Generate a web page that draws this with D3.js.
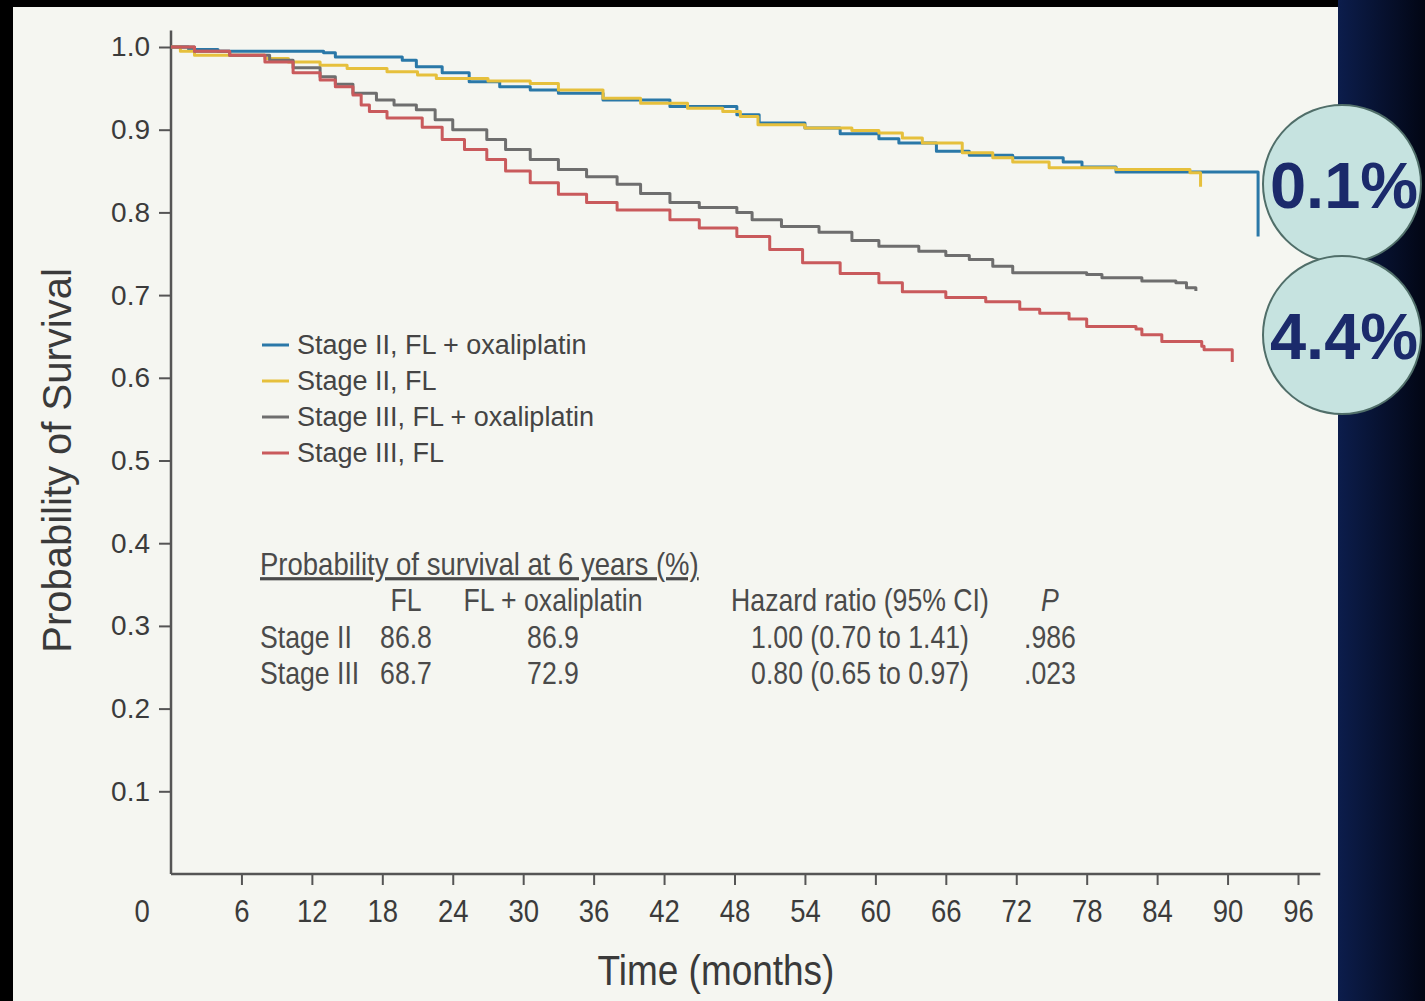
<!DOCTYPE html>
<html>
<head>
<meta charset="utf-8">
<style>
  html, body { margin: 0; padding: 0; background: #000; }
  svg { display: block; }
  .tick text { fill: #3b3b3b; }
</style>
</head>
<body>
<div id="chart"></div>
<script src="https://cdn.jsdelivr.net/npm/d3@7/dist/d3.min.js"></script>
<script>
var W = 1425, H = 1001;

// ---- data ----
var seriesNames = ["Stage II, FL + oxaliplatin", "Stage II, FL", "Stage III, FL + oxaliplatin", "Stage III, FL"];
var seriesColors = ["#2a78a8", "#e6c03c", "#6e6e6e", "#c95a5c"];

// [months, probability] (Kaplan-Meier steps)
var stage2Ox = [[0,1.0],[1.5,0.997],[4,0.995],[13,0.993],[14,0.988],[19.7,0.984],[20.9,0.976],[23.1,0.969],[25.4,0.958],[28,0.952],[30.6,0.948],[33,0.944],[36.8,0.936],[42.5,0.928],[48.2,0.918],[50.1,0.908],[54,0.902],[57,0.895],[60.3,0.889],[62,0.884],[65.2,0.874],[68,0.869],[71.7,0.866],[76,0.861],[77.6,0.855],[80.5,0.849],[92.6,0.771]];
var stage2Fl = [[0,1.0],[0.8,0.995],[2,0.99],[8,0.986],[10,0.982],[12.7,0.978],[15,0.974],[18.4,0.97],[21,0.966],[22.6,0.962],[27,0.959],[30.6,0.956],[33,0.948],[36.8,0.938],[40,0.932],[44,0.926],[47,0.922],[48.5,0.916],[50,0.906],[54,0.902],[58,0.899],[60.3,0.896],[62.3,0.89],[64,0.884],[67.4,0.872],[70,0.866],[71.7,0.861],[74.8,0.854],[80.5,0.852],[86.8,0.848],[87.7,0.831]];
var stage3Ox = [[0,1.0],[2,0.995],[5,0.99],[8.4,0.984],[10.4,0.975],[12.7,0.964],[14,0.955],[15.5,0.944],[17.5,0.936],[19,0.93],[20.9,0.924],[22.5,0.912],[24,0.9],[26.9,0.888],[28.5,0.876],[30.6,0.864],[33,0.852],[35.4,0.843],[38,0.834],[40,0.823],[42.5,0.812],[45,0.806],[48.2,0.8],[49.5,0.791],[52,0.783],[55.2,0.776],[58,0.766],[60.3,0.759],[63.7,0.753],[66,0.748],[68,0.743],[70,0.735],[71.7,0.727],[78,0.725],[79.3,0.721],[82.7,0.717],[85.6,0.715],[86.5,0.709],[87.3,0.705]];
var stage3Fl = [[0,1.0],[2,0.995],[5,0.99],[8,0.982],[10.4,0.969],[12.7,0.96],[14,0.952],[15.5,0.942],[16.2,0.93],[16.9,0.922],[18.4,0.914],[21.4,0.903],[23.1,0.888],[25,0.876],[26.9,0.864],[28.5,0.85],[30.6,0.836],[33,0.822],[35.4,0.812],[38,0.803],[42.5,0.791],[45,0.781],[48.2,0.771],[51,0.755],[53.8,0.739],[57,0.726],[60.3,0.715],[62.3,0.704],[66,0.697],[69.4,0.692],[72.3,0.683],[74,0.678],[76.5,0.671],[78,0.662],[82.2,0.659],[82.7,0.652],[84.4,0.644],[87.8,0.638],[88,0.634],[90.4,0.619]];
var allSeries = [stage2Ox, stage2Fl, stage3Ox, stage3Fl];

var xTicks = [0, 6, 12, 18, 24, 30, 36, 42, 48, 54, 60, 66, 72, 78, 84, 90, 96];
var yTicks = [0.1, 0.2, 0.3, 0.4, 0.5, 0.6, 0.7, 0.8, 0.9, 1.0];

var tableTitle = "Probability of survival at 6 years (%)";
var tableHeader = ["", "FL", "FL + oxaliplatin", "Hazard ratio (95% CI)", "P"];
var tableRows = [
  ["Stage II", "86.8", "86.9", "1.00 (0.70 to 1.41)", ".986"],
  ["Stage III", "68.7", "72.9", "0.80 (0.65 to 0.97)", ".023"]
];
var badges = ["0.1%", "4.4%"];

// ---- drawing ----
var font = "Liberation Sans, Arial, sans-serif";
var svg = d3.select("#chart").append("svg").attr("width", W).attr("height", H);

var defs = svg.append("defs");
var g1 = defs.append("linearGradient").attr("id", "side").attr("x1", 0).attr("x2", 1).attr("y1", 0).attr("y2", 0);
g1.append("stop").attr("offset", "0%").attr("stop-color", "#0c1d4c");
g1.append("stop").attr("offset", "100%").attr("stop-color", "#020614");

svg.append("rect").attr("width", W).attr("height", H).attr("fill", "#000");
svg.append("rect").attr("x", 1338).attr("y", 0).attr("width", W - 1338).attr("height", H).attr("fill", "url(#side)");
svg.append("rect").attr("x", 13).attr("y", 7).attr("width", 1325).attr("height", H - 7).attr("fill", "#f5f6f1");

var x = d3.scaleLinear().domain([0, 96]).range([171, 1298]);
var y = d3.scaleLinear().domain([0, 1]).range([874, 47]);

// y axis
var yAxis = svg.append("g").attr("transform", "translate(" + x(0) + ",0)")
  .call(d3.axisLeft(y).tickValues(yTicks).tickSize(12).tickPadding(9).tickFormat(d3.format(".1f")));
yAxis.select(".domain").remove();
yAxis.selectAll(".tick line").attr("stroke", "#555").attr("stroke-width", 2);
yAxis.selectAll(".tick text").attr("font-family", font).attr("font-size", 28);

// x axis (condensed digits)
var xAxis = svg.append("g").attr("transform", "translate(0," + y(0) + ")")
  .call(d3.axisBottom(x).tickValues(xTicks).tickSize(11).tickPadding(14));
xAxis.select(".domain").remove();
xAxis.selectAll(".tick line").attr("stroke", "#555").attr("stroke-width", 2);
xAxis.selectAll(".tick text").attr("font-family", font).attr("font-size", 32)
  .attr("transform", "scale(0.86,1)");
xAxis.selectAll(".tick").filter(function (d) { return d === 0; })
  .each(function () {
    d3.select(this).select("line").remove();
    d3.select(this).select("text").attr("x", -34);
  });

svg.append("line").attr("x1", x(0)).attr("x2", x(0)).attr("y1", y(1.02)).attr("y2", y(0))
  .attr("stroke", "#555").attr("stroke-width", 2.5);
svg.append("line").attr("x1", x(0)).attr("x2", x(97.9)).attr("y1", y(0)).attr("y2", y(0))
  .attr("stroke", "#555").attr("stroke-width", 2.5);

// axis titles
svg.append("text").attr("transform", "translate(71," + y(0.5) + ") rotate(-90)")
  .attr("text-anchor", "middle").attr("font-family", font)
  .attr("font-size", 40).attr("fill", "#3a3a3a").text("Probability of Survival");
svg.append("text").attr("transform", "translate(716,985) scale(0.88,1)")
  .attr("text-anchor", "middle").attr("font-family", font)
  .attr("font-size", 42).attr("fill", "#3a3a3a").text("Time (months)");

// curves
var line = d3.line().x(function (d) { return x(d[0]); }).y(function (d) { return y(d[1]); }).curve(d3.curveStepAfter);
svg.selectAll("path.km").data(allSeries).enter().append("path")
  .attr("class", "km")
  .attr("d", line)
  .attr("fill", "none")
  .attr("stroke", function (d, i) { return seriesColors[i]; })
  .attr("stroke-width", 3)
  .attr("stroke-linejoin", "round");

// legend
var leg = svg.append("g").attr("transform", "translate(262,345)");
seriesNames.forEach(function (name, i) {
  var row = leg.append("g").attr("transform", "translate(0," + (i * 36) + ")");
  row.append("line").attr("x1", 0).attr("x2", 27).attr("stroke", seriesColors[i]).attr("stroke-width", 3);
  row.append("text").attr("x", 35).attr("y", 9).attr("font-family", font)
    .attr("font-size", 27).attr("fill", "#444").text(name);
});

// table (condensed text)
svg.append("text").attr("transform", "translate(260,575) scale(0.86,1)")
  .attr("font-family", font).attr("font-size", 32)
  .attr("fill", "#4a4a4a").attr("text-decoration", "underline").text(tableTitle);
var colX = [260, 406, 553, 860, 1050];
var colAnchor = ["start", "middle", "middle", "middle", "middle"];
var rowY = [611, 648, 684];
[tableHeader].concat(tableRows).forEach(function (r, ri) {
  r.forEach(function (cell, ci) {
    var t = svg.append("text").attr("transform", "translate(" + colX[ci] + "," + rowY[ri] + ") scale(0.86,1)")
      .attr("text-anchor", colAnchor[ci]).attr("font-family", font).attr("font-size", 31)
      .attr("fill", "#4a4a4a").text(cell);
    if (ri === 0 && ci === 4) t.attr("font-style", "italic");
  });
});

// badges
var badgeY = [184, 335];
badges.forEach(function (b, i) {
  svg.append("circle").attr("cx", 1342).attr("cy", badgeY[i]).attr("r", 79)
    .attr("fill", "#c6e3e0").attr("stroke", "#506e69").attr("stroke-width", 2);
  svg.append("text").attr("x", 1344).attr("y", badgeY[i] + 24).attr("text-anchor", "middle")
    .attr("font-family", font).attr("font-weight", "bold")
    .attr("font-size", 65).attr("fill", "#1b2a6b").text(b);
});
</script>
</body>
</html>
